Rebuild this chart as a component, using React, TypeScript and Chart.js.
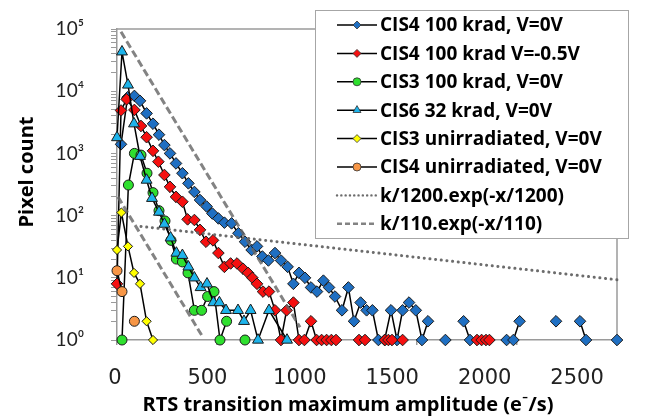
import React, { useEffect, useRef } from 'react';
import { Chart, registerables } from 'chart.js';

Chart.register(...registerables);

const FONT = 'Lato, "Open Sans", "DejaVu Sans", sans-serif';
const BOLD_FONT = '"Open Sans", Lato, sans-serif';
const XTICK_FONT = '"DejaVu Sans", sans-serif';

// ---- labels ----
const seriesLabels = [
  'CIS4 100 krad, V=0V',
  'CIS4 100 krad V=-0.5V',
  'CIS3 100 krad, V=0V',
  'CIS6 32 krad, V=0V',
  'CIS3 unirradiated, V=0V',
  'CIS4 unirradiated, V=0V',
  'k/1200.exp(-x/1200)',
  'k/110.exp(-x/110)',
];
const xTitle = 'RTS transition maximum amplitude (e\u207B/s)';
const yTitle = 'Pixel count';

const xTickValues = [0, 500, 1000, 1500, 2000, 2500];
const xTickLabels = ['0', '500', '1000', '1500', '2000', '2500'];
const yTickValues = [1, 10, 100, 1000, 10000, 100000];
const yTickLabels = ['10\u2070', '10\u00B9', '10\u00B2', '10\u00B3', '10\u2074', '10\u2075'];
const yMinorMultipliers = [2, 3, 4, 5, 6, 7, 8, 9];

// ---- series (null = gap) ----
const cis4V0X = [20, 53, 87, 115, 148, 180, 210, 237, 265, 295, 327, 357, 387, 415, 448, 477, 507, 537, 573, 607, 640, 673, 700, 727, 757, 790, 820, 853, 882, 910, 940, 970, 1000, 1032, 1060, 1090, 1125, 1157, 1185, 1218, 1248, 1277, 1307, 1338, 1370, 1400, 1428, 1460, 1494, 1525, 1555, null, 1642, null, 1733, 1765, null, 1948, 1982, 2013, null, 2195, null, 2315, 2345, null, 2500];
const cis4V0Y = [1400, 8000, 8400, 7000, 4400, 3000, 2000, 1360, 1000, 690, 480, 330, 240, 178, 140, 108, 90, 77, 75, 52, 38, 28, 32, 22, 19, 25, 19, 15, 8, 12, 10, 7, 6, 9, 7, 5, 3, 7, 2, 4, 3, 3, 1, 1, 3, 1, 3, 4, 3, 1, 2, null, 1, null, 2, 1, null, 1, 1, 2, null, 2, null, 2, 1, null, 1];

const cis4VnX = [0, 20, 48, 87, 120, 148, 180, 207, 237, 265, 295, 327, 353, 387, 415, 445, 480, 507, 537, 568, 600, 630, 655, 677, 700, 730, 760, 790, 820, 848, 882, 910, 937, 970, 998, 1023, 1048, 1072, 1095, null, 1210, 1240, null, 1340, 1357, 1375, null, 1428, null, 1800, 1823, 1845, 1862];
const cis4VnY = [8, 4900, 7400, 5000, 2760, 1820, 1100, 735, 450, 290, 200, 167, 87, 85, 59, 38, 40, 25, 15, 17, 17, 14, 12, 10, 8, 6, 6, 3, 1, 3, 4, 1, 1, 2, 1, 1, 1, 1, 1, null, 1, 1, null, 1, 1, 1, null, 1, null, 1, 1, 1, 1];

const cis3X = [25, 57, 87, 120, 150, 180, 210, 240, 270, 297, 327, 355, 387, 423, 453, 485, 515, 548, null, 640];
const cis3Y = [1, 310, 1000, 940, 480, 234, 120, 82, 40, 20, 18, 12, 3, 3, 5, 6, 1, 2, null, 1];

const cis6X = [0, 25, 55, 85, 115, 148, 175, 210, 237, 268, 297, 327, 357, 387, 418, 450, 482, 512, 545, 605, 635, 668, 705, 760, 850];
const cis6Y = [1800, 43000, 12600, 3000, 900, 373, 190, 114, 73, 44, 25, 23, 15, 10, 7, 8, 4, 4, 3, 3, 2, 3, 1, 3, 1];

const cis3UnX = [0, 22, 55, 85, 115, 148, 180];
const cis3UnY = [28, 112, 32, 12, 8, 2, 1];

const cis4UnX = [0, 25, null, 87];
const cis4UnY = [13, 6, null, 2];

// fit lines (end points)
const fit1200X = [120, 2500];
const fit1200Y = [67, 9.3];
const fit110UpperX = [20, 915];
const fit110UpperY = [90000, 1.6];
const fit110LowerX = [5, 430];
const fit110LowerY = [200, 1.1];

const toPts = (xs: (number | null)[], ys: (number | null)[]) => {
  const out: { x: number; y: number | null }[] = [];
  xs.forEach((x, i) => {
    const px = x ?? (out.length ? out[out.length - 1].x : 0);
    out.push({ x: px, y: ys[i] });
  });
  return out;
};

const GRAY = '#9a9a9a';

const markerSet = (
  label: string, xs: (number | null)[], ys: (number | null)[],
  style: string, radius: number, fill: string, order: number,
) => ({
  label,
  data: toPts(xs, ys),
  borderColor: '#000',
  borderWidth: 1.5,
  pointStyle: style,
  pointRadius: radius,
  pointBackgroundColor: fill,
  pointBorderColor: '#1b1b1b',
  pointBorderWidth: 1,
  spanGaps: false,
  clip: false as const,
  tension: 0,
  order,
  inLegend: true,
});

const noPad = (s: any) => {
  s.paddingTop = 0;
  s.paddingBottom = 0;
  s.paddingLeft = 0;
  s.paddingRight = 0;
};

const legendPlugin = {
  id: 'customLegend',
  afterDraw(chart: any) {
    const { ctx } = chart;
    ctx.save();
    const bx = 315, by = 10, bw = 313, bh = 228;
    ctx.fillStyle = '#fff';
    ctx.fillRect(bx, by, bw, bh);
    ctx.strokeStyle = '#a6a6a6';
    ctx.lineWidth = 1;
    ctx.strokeRect(bx + 0.5, by + 0.5, bw, bh);
    const sets = chart.data.datasets.filter((d: any) => d.inLegend);
    sets.forEach((d: any, i: number) => {
      const y = 25 + i * 28.4;
      const x0 = 337, x1 = 377, xm = 357;
      ctx.save();
      ctx.beginPath();
      ctx.strokeStyle = d.borderColor;
      ctx.lineWidth = d.fit ? d.borderWidth * 0.8 : 1.5;
      ctx.lineCap = d.borderCapStyle || 'butt';
      ctx.setLineDash(d.borderDash ? d.legendDash : []);
      ctx.moveTo(x0, y);
      ctx.lineTo(x1, y);
      ctx.stroke();
      ctx.restore();
      if (!d.fit) {
        const r = 4;
        ctx.beginPath();
        if (d.pointStyle === 'rectRot') {
          ctx.moveTo(xm - r, y); ctx.lineTo(xm, y - r); ctx.lineTo(xm + r, y); ctx.lineTo(xm, y + r); ctx.closePath();
        } else if (d.pointStyle === 'triangle') {
          const t = 4.6;
          ctx.moveTo(xm, y - t); ctx.lineTo(xm + t * 0.87, y + t * 0.5); ctx.lineTo(xm - t * 0.87, y + t * 0.5); ctx.closePath();
        } else {
          ctx.arc(xm, y, r, 0, Math.PI * 2);
        }
        ctx.fillStyle = d.pointBackgroundColor;
        ctx.fill();
        ctx.lineWidth = 0.8;
        ctx.strokeStyle = '#333';
        ctx.stroke();
      }
      ctx.fillStyle = '#000';
      ctx.font = `bold 19px ${BOLD_FONT}`;
      ctx.textBaseline = 'middle';
      ctx.textAlign = 'left';
      ctx.fillText(d.label, 380, y + 1);
    });
    // axis titles
    ctx.fillStyle = '#000';
    ctx.font = `bold 20px ${BOLD_FONT}`;
    ctx.textAlign = 'center';
    ctx.textBaseline = 'middle';
    ctx.fillText(xTitle, 348, 405);
    ctx.translate(27, 172);
    ctx.rotate(-Math.PI / 2);
    ctx.fillText(yTitle, 0, 0);
    ctx.restore();
  },
  beforeDatasetsDraw(chart: any) {
    const { ctx, chartArea: a } = chart;
    ctx.save();
    ctx.strokeStyle = GRAY;
    ctx.lineWidth = 1.5;
    ctx.beginPath();
    ctx.moveTo(a.left, a.top);
    ctx.lineTo(a.right, a.top);
    ctx.lineTo(a.right, a.bottom);
    ctx.stroke();
    ctx.restore();
  },
};

export default function App() {
  const ref = useRef<HTMLCanvasElement | null>(null);
  useEffect(() => {
    document.body.style.margin = '0';
    const canvas = ref.current!;
    const datasets: any[] = [
      markerSet(seriesLabels[0], cis4V0X, cis4V0Y, 'rectRot', 5.8, '#1f6fc2', 7),
      markerSet(seriesLabels[1], cis4VnX, cis4VnY, 'rectRot', 5.8, '#f51010', 6),
      markerSet(seriesLabels[2], cis3X, cis3Y, 'circle', 5, '#2fe02f', 5),
      markerSet(seriesLabels[3], cis6X, cis6Y, 'triangle', 6.3, '#1db3ea', 4),
      markerSet(seriesLabels[4], cis3UnX, cis3UnY, 'rectRot', 4.6, '#ffff00', 3),
      markerSet(seriesLabels[5], cis4UnX, cis4UnY, 'circle', 5, '#f79646', 2),
      {
        label: seriesLabels[6], data: toPts(fit1200X, fit1200Y), borderColor: 'rgba(100,100,100,0.95)',
        borderWidth: 3, borderDash: [0.1, 5.6], borderCapStyle: 'round', legendDash: [0.1, 4.2],
        pointRadius: 0, clip: false, order: 1, fit: true, inLegend: true,
      },
      {
        label: seriesLabels[7], data: toPts(fit110UpperX, fit110UpperY), borderColor: 'rgba(100,100,100,0.8)',
        borderWidth: 3, borderDash: [7.5, 3.5], legendDash: [5, 3],
        pointRadius: 0, clip: false, order: 0, fit: true, inLegend: true,
      },
      {
        label: 'lower fit', data: toPts(fit110LowerX, fit110LowerY), borderColor: 'rgba(100,100,100,0.8)',
        borderWidth: 3, borderDash: [7.5, 3.5],
        pointRadius: 0, clip: false, order: 0, fit: true, inLegend: false,
      },
    ];
    const chart = new Chart(canvas, {
      type: 'line',
      data: { datasets },
      options: {
        responsive: false,
        animation: false,
        devicePixelRatio: 1,
        layout: { padding: { top: 29, right: 42, left: 0, bottom: 0 } },
        plugins: { legend: { display: false }, tooltip: { enabled: false } },
        scales: {
          x: {
            type: 'linear', position: 'bottom', min: 0, max: 2500, weight: 0,
            afterFit: (s: any) => { s.height = 8; noPad(s); },
            afterBuildTicks: (s: any) => { s.ticks = xTickValues.map((v) => ({ value: v })); },
            ticks: { display: false },
            grid: { drawOnChartArea: false, tickLength: 5, color: GRAY, lineWidth: 1.5 },
            border: { color: GRAY, width: 1.5 },
          },
          xl: {
            type: 'linear', position: 'bottom', min: 10.8, max: 2716, weight: 1,
            afterFit: (s: any) => { s.height = 70; noPad(s); },
            afterBuildTicks: (s: any) => { s.ticks = xTickValues.map((v) => ({ value: v })); },
            ticks: {
              autoSkip: false, maxRotation: 0, padding: 10, color: '#222',
              font: { family: XTICK_FONT, size: 21 },
              callback: (v: any) => xTickLabels[xTickValues.indexOf(Number(v))] ?? '',
            },
            grid: { display: false },
            border: { display: false },
          },
          y: {
            type: 'logarithmic', position: 'left', min: 1, max: 100000,
            afterFit: (s: any) => { s.width = 117; noPad(s); },
            afterBuildTicks: (s: any) => {
              const t: { value: number }[] = [];
              yTickValues.forEach((v, i) => {
                t.push({ value: v });
                if (i < yTickValues.length - 1) yMinorMultipliers.forEach((m) => t.push({ value: v * m }));
              });
              s.ticks = t;
            },
            ticks: {
              autoSkip: false, padding: 27, color: '#222',
              font: { family: FONT, size: 19 },
              callback: (v: any) => {
                const i = yTickValues.findIndex((t) => Math.abs(t - Number(v)) < 1e-6 * t);
                return i >= 0 ? yTickLabels[i] : '';
              },
            },
            grid: { drawOnChartArea: false, tickLength: 6, color: GRAY, lineWidth: 1 },
            border: { color: GRAY, width: 1.5 },
          },
        },
      } as any,
      plugins: [legendPlugin],
    });
    return () => chart.destroy();
  }, []);
  return (
    <div style={{ width: 659, height: 418, background: '#fff' }}>
      <canvas ref={ref} width={659} height={418} style={{ display: 'block' }} />
    </div>
  );
}
